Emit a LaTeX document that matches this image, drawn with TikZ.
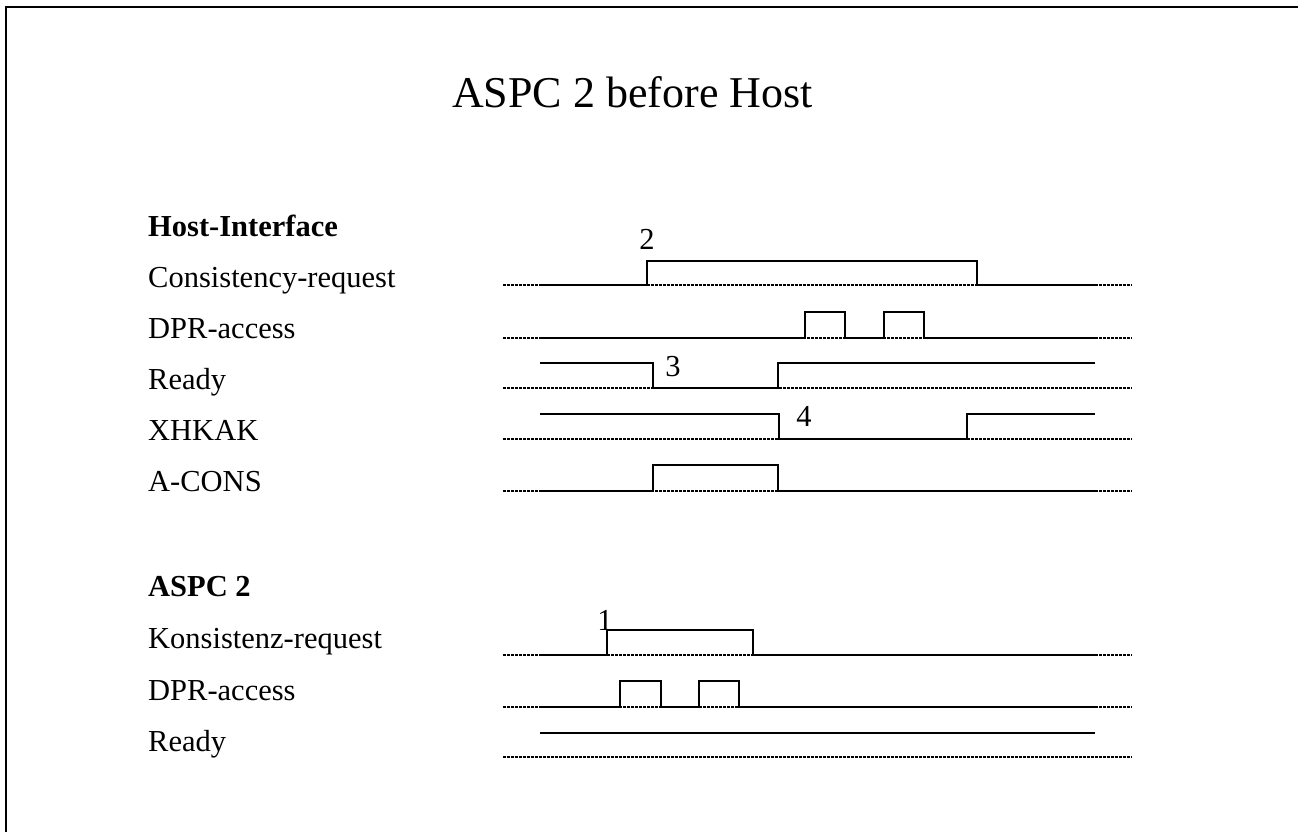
\documentclass[tikz,border=0pt]{standalone}
\usepackage{fontspec}
\setmainfont{Liberation Serif}
\newcommand{\lblfont}{\fontsize{30.5}{36}\selectfont}
\newcommand{\ttlfont}{\fontsize{44}{50}\selectfont}
\begin{document}
\begin{tikzpicture}[x=1pt,y=-1pt,
  sig/.style={line width=2pt},
  lowdot/.style={line width=2.6pt, dash pattern=on 2.6pt off 1.4pt},
  frm/.style={line width=2.2pt},
  lbl/.style={anchor=base west, inner sep=0pt, font=\lblfont},
  num/.style={anchor=base, inner sep=0pt, font=\lblfont}]
\useasboundingbox (0,0) rectangle (1298,832);
% frame
\draw[frm] (6,840) -- (6,7) -- (1310,7);
% title
\node[anchor=base west, inner sep=0pt, font=\ttlfont] (title) at (452,108) {ASPC 2 before Host};
% labels
\node[lbl] (hi) at (148,236) {\textbf{Host-Interface}};
\node[lbl] (l1) at (148,287) {Consistency-request};
\node[lbl] (l2) at (148,338) {DPR-access};
\node[lbl] (l3) at (148,389) {Ready};
\node[lbl] (l4) at (148,440) {XHKAK};
\node[lbl] (l5) at (148,491) {A-CONS};
\node[lbl] (as) at (148,596) {\textbf{ASPC 2}};
\node[lbl] (k1) at (148,648) {Konsistenz-request};
\node[lbl] (k2) at (148,700) {DPR-access};
\node[lbl] (k3) at (148,751) {Ready};
% dotted low levels
\foreach \yy in {285,338,388,439,491,655,707,757}
  \draw[lowdot] (503,\yy) -- (1132,\yy);
% Host-Interface signals
\draw[sig] (540,285) -- (647,285) -- (647,261) -- (977,261) -- (977,285) -- (1095,285);
\draw[sig] (540,338) -- (805,338) -- (805,312) -- (845,312) -- (845,338) -- (884,338) -- (884,312) -- (924,312) -- (924,338) -- (1095,338);
\draw[sig] (540,363) -- (653,363) -- (653,388) -- (778,388) -- (778,363) -- (1095,363);
\draw[sig] (540,414) -- (779,414) -- (779,439) -- (967,439) -- (967,414) -- (1095,414);
\draw[sig] (540,491) -- (653,491) -- (653,465) -- (778,465) -- (778,491) -- (1095,491);
% ASPC 2 signals
\draw[sig] (540,655) -- (607,655) -- (607,630) -- (753,630) -- (753,655) -- (1095,655);
\draw[sig] (540,707) -- (620,707) -- (620,681) -- (661,681) -- (661,707) -- (699,707) -- (699,681) -- (739,681) -- (739,707) -- (1095,707);
\draw[sig] (540,733) -- (1095,733);
% numbers
\node[num] (n2) at (647,249) {2};
\node[num] (n3) at (673,376) {3};
\node[num] (n4) at (804,426) {4};
\node[num] (n1) at (605,630) {1};
\end{tikzpicture}
\end{document}
